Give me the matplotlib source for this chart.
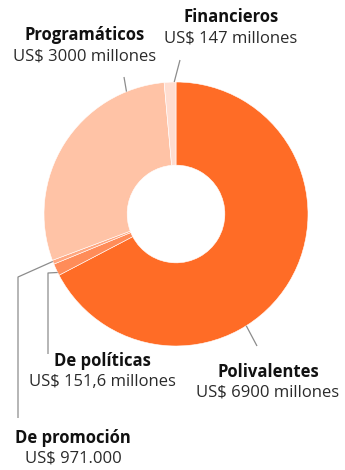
import matplotlib.pyplot as plt
import numpy as np

# slices, clockwise from 12 o'clock
categories = ["Polivalentes", "De políticas", "De promoción", "Programáticos", "Financieros"]
values_musd = [6900, 151.6, 0.971, 3000, 147]
value_labels = ["US$ 6900 millones", "US$ 151,6 millones", "US$ 971.000",
                "US$ 3000 millones", "US$ 147 millones"]
colors = ["#FF6C26", "#FF8C59", "#FFA780", "#FFC3A6", "#FFDDD0"]

# the smallest slice would vanish, give it a visible minimum
min_visible = 50

W, H = 345, 470
fig = plt.figure(figsize=(W / 100, H / 100), dpi=100)
ax = fig.add_axes([0, 0, 1, 1])

cx, cy, r = 176, H - 214, 132
drawn = np.maximum(values_musd, min_visible)
wedges, _ = ax.pie(drawn, colors=colors, startangle=90, counterclock=False,
                   center=(cx, cy), radius=r, frame=True,
                   wedgeprops=dict(width=r * 0.63, edgecolor="#ffffff", linewidth=0.4))
ax.set_xlim(0, W)
ax.set_ylim(0, H)
ax.set_aspect("equal")
ax.axis("off")

# label layout: (text x, name y, position along wedge from theta1, leader points)
layout = {
    "Polivalentes": (268, 372, 0.39, [(257, 346)]),
    "De políticas": (102, 361, 0.75, [(48, 273), (48, 354)]),
    "De promoción": (73, 438, 0.3, [(18, 277), (18, 418)]),
    "Programáticos": (85, 35, 0.16, [(124, 77)]),
    "Financieros": (231, 17, 0.15, [(180, 60)]),
}

for w, name, vlab in zip(wedges, categories, value_labels):
    tx, ty, frac, pts = layout[name]
    ang = np.deg2rad(w.theta1 + frac * (w.theta2 - w.theta1))
    xs = [cx + r * np.cos(ang)] + [p[0] for p in pts]
    ys = [cy + r * np.sin(ang)] + [H - p[1] for p in pts]
    ax.plot(xs, ys, color="#8c8c8c", lw=0.9, solid_capstyle="butt")
    ax.text(tx, H - ty, name, ha="center", va="center", fontsize=12,
            fontweight="bold", family="Open Sans", color="#111111")
    ax.text(tx, H - ty - 21, vlab, ha="center", va="center", fontsize=12,
            family="Open Sans", color="#2a2a2a")

fig.savefig("out.png", dpi=100)
